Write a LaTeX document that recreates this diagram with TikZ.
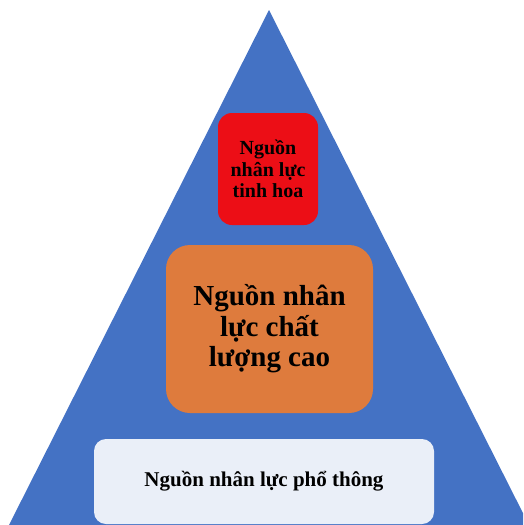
\documentclass[tikz,border=0pt]{standalone}
\usepackage{fontspec}
\setmainfont{Liberation Serif}
\definecolor{triblue}{HTML}{4472C4}
\definecolor{boxred}{HTML}{EC0E16}
\definecolor{boxorange}{HTML}{DE7B3D}
\definecolor{boxlight}{HTML}{EAEFF8}
\begin{document}
\begin{tikzpicture}[x=1pt,y=-1pt,
  tierbox/.style={align=center, inner sep=0pt, text=black},
]
\useasboundingbox (0,0) rectangle (523,525);
\begin{scope}
\clip (0,0) rectangle (523,525);
\fill[triblue] (269,10) -- (529,525) -- (9,525) -- cycle;
\end{scope}
\node[tierbox, fill=boxred, minimum width=100pt, minimum height=112pt, rounded corners=14pt,
  font=\bfseries\fontsize{20}{21.5}\selectfont] (elite) at (268,169) {Nguồn\\nhân lực\\tinh hoa};
\node[tierbox, fill=boxorange, minimum width=207pt, minimum height=168pt, rounded corners=24pt,
  font=\bfseries\fontsize{29}{30.5}\selectfont] (high) at (269.5,329) {Nguồn nhân\\lực chất\\lượng cao};
\node[tierbox, fill=boxlight, minimum width=340pt, minimum height=85pt, rounded corners=12pt,
  font=\bfseries\fontsize{21}{22}\selectfont] (general) at (264,481.5) {Nguồn nhân lực phổ thông};
\end{tikzpicture}
\end{document}
